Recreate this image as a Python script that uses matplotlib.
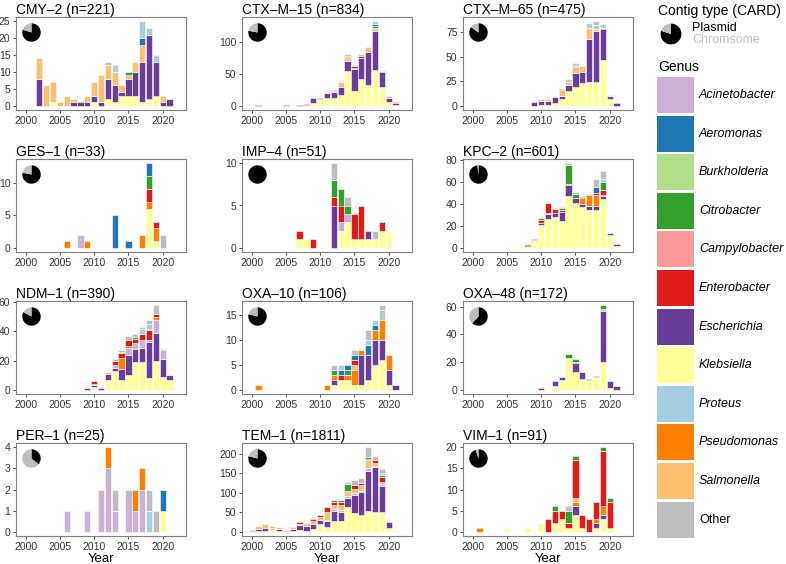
import matplotlib
matplotlib.use('Agg')
import matplotlib.pyplot as plt
from matplotlib.patches import Rectangle

plt.rcParams['font.family'] = ['Liberation Sans', 'DejaVu Sans']

years = list(range(2000, 2022))

# legend order and colours
genus_legend = ['Acinetobacter', 'Aeromonas', 'Burkholderia', 'Citrobacter', 'Campylobacter',
                'Enterobacter', 'Escherichia', 'Klebsiella', 'Proteus', 'Pseudomonas',
                'Salmonella', 'Other']
genus_colors = ['#cab2d6', '#1f78b4', '#b2df8a', '#33a02c', '#fb9a99',
                '#e31a1c', '#6a3d9a', '#ffff99', '#a6cee3', '#ff7f00',
                '#fdbf6f', '#bebebe']
# bottom -> top order of the stacks
stack_order = ['Klebsiella', 'Escherichia', 'Acinetobacter', 'Pseudomonas', 'Salmonella',
               'Campylobacter', 'Enterobacter', 'Citrobacter', 'Burkholderia', 'Aeromonas',
               'Proteus', 'Other']

#%% counts per genus per year
cmy2 = {
    'Klebsiella': {2004: 1, 2010: 1, 2012: 2, 2013: 1, 2014: 3, 2015: 3, 2016: 3, 2017: 1, 2018: 2, 2019: 3},
    'Escherichia': {2002: 8, 2007: 1, 2008: 1, 2009: 1, 2010: 2, 2011: 1, 2012: 6, 2013: 5, 2014: 1, 2015: 5,
                    2016: 7, 2017: 12, 2018: 19, 2019: 10, 2020: 1, 2021: 2},
    'Salmonella': {2002: 6, 2003: 6, 2004: 6, 2005: 1, 2006: 3, 2007: 1, 2009: 2, 2010: 4, 2011: 8, 2012: 4,
                   2013: 4, 2014: 2, 2015: 1, 2016: 3, 2017: 5, 2020: 2},
    'Citrobacter': {2015: 1},
    'Aeromonas': {2017: 2},
    'Proteus': {2013: 2, 2017: 5, 2018: 2, 2019: 2},
    'Other': {2012: 1},
}
ctxm15 = {
    'Klebsiella': {2003: 1, 2008: 1, 2009: 5, 2010: 10, 2011: 12, 2012: 12, 2013: 17, 2014: 55, 2015: 24,
                   2016: 42, 2017: 33, 2018: 57, 2019: 30, 2020: 6, 2021: 1},
    'Escherichia': {2001: 1, 2005: 1, 2007: 1, 2008: 2, 2009: 7, 2010: 2, 2011: 8, 2012: 9, 2013: 12, 2014: 15,
                    2015: 34, 2016: 33, 2017: 51, 2018: 60, 2019: 23, 2020: 7, 2021: 3},
    'Salmonella': {2011: 1, 2012: 2, 2013: 9, 2014: 5, 2015: 2, 2017: 9, 2018: 3, 2020: 2, 2021: 1},
    'Pseudomonas': {2014: 1},
    'Enterobacter': {2014: 3, 2015: 2, 2016: 4, 2018: 3, 2019: 1, 2021: 1},
    'Citrobacter': {2012: 2, 2018: 3},
    'Aeromonas': {2018: 3, 2019: 1},
    'Proteus': {2018: 4, 2019: 2},
    'Other': {2013: 1, 2014: 2, 2015: 2, 2016: 2, 2020: 1},
}
ctxm65 = {
    'Klebsiella': {2002: 1, 2008: 1, 2010: 1, 2011: 1, 2012: 3, 2013: 7, 2014: 15, 2015: 19, 2016: 23,
                   2017: 24, 2018: 24, 2019: 47, 2020: 7},
    'Escherichia': {2009: 4, 2010: 4, 2011: 4, 2012: 6, 2013: 3, 2014: 6, 2015: 14, 2016: 11, 2017: 44,
                    2018: 52, 2019: 31, 2020: 3, 2021: 3},
    'Salmonella': {2010: 2, 2011: 2, 2013: 6, 2014: 3, 2015: 6, 2016: 6, 2017: 11, 2018: 2, 2020: 1},
    'Enterobacter': {2015: 1, 2019: 1},
    'Citrobacter': {2013: 1},
    'Proteus': {2014: 3, 2015: 4, 2017: 5, 2018: 4, 2019: 4},
    'Other': {2018: 4},
}
ges1 = {
    'Acinetobacter': {2008: 2},
    'Pseudomonas': {2006: 1, 2009: 1, 2017: 2, 2018: 1, 2019: 2},
    'Aeromonas': {2013: 5, 2015: 1, 2018: 2},
    'Klebsiella': {2018: 6, 2019: 1},
    'Enterobacter': {2018: 2, 2019: 1},
    'Citrobacter': {2018: 2},
    'Other': {2020: 2},
}
imp4 = {
    'Klebsiella': {2007: 1, 2008: 1, 2013: 2, 2014: 3, 2015: 1, 2016: 1, 2017: 1, 2018: 1, 2019: 2, 2020: 2},
    'Escherichia': {2012: 5, 2017: 1},
    'Acinetobacter': {2013: 1, 2014: 1},
    'Enterobacter': {2007: 1, 2009: 1, 2012: 1, 2013: 2, 2015: 3, 2016: 4, 2019: 1},
    'Citrobacter': {2012: 2, 2013: 2, 2014: 1},
    'Other': {2012: 2, 2014: 1, 2018: 1},
}
kpc2 = {
    'Klebsiella': {2007: 1, 2008: 1, 2009: 7, 2010: 21, 2011: 26, 2012: 28, 2013: 24, 2014: 47, 2015: 41,
                   2016: 37, 2017: 34, 2018: 34, 2019: 44, 2020: 12, 2021: 2},
    'Escherichia': {2010: 2, 2011: 5, 2012: 4, 2013: 9, 2014: 10, 2015: 4, 2016: 3, 2017: 4, 2018: 4,
                    2019: 3, 2020: 1, 2021: 1},
    'Pseudomonas': {2011: 1, 2016: 5, 2017: 10, 2018: 10, 2019: 1},
    'Campylobacter': {2008: 2},
    'Enterobacter': {2009: 1, 2010: 2, 2011: 9, 2012: 3, 2013: 1, 2014: 1, 2016: 1, 2018: 2, 2019: 5},
    'Citrobacter': {2010: 2, 2013: 2, 2014: 17, 2015: 4, 2016: 1, 2017: 1, 2019: 7},
    'Aeromonas': {2013: 1, 2018: 5},
    'Proteus': {2013: 1, 2014: 2, 2015: 2, 2019: 3},
    'Other': {2011: 1, 2018: 8, 2019: 7},
}
ndm1 = {
    'Klebsiella': {2010: 2, 2012: 7, 2013: 13, 2014: 7, 2015: 10, 2016: 19, 2017: 19, 2018: 8, 2019: 20,
                   2020: 9, 2021: 7},
    'Escherichia': {2009: 1, 2010: 1, 2011: 1, 2012: 4, 2013: 2, 2014: 7, 2015: 14, 2016: 9, 2017: 10,
                    2018: 25, 2019: 19, 2020: 12, 2021: 3},
    'Acinetobacter': {2010: 1, 2013: 2, 2015: 5, 2016: 4, 2017: 5, 2018: 1, 2019: 9, 2020: 6},
    'Pseudomonas': {2014: 8, 2015: 1, 2019: 2},
    'Salmonella': {2012: 1, 2021: 1},
    'Enterobacter': {2010: 2, 2013: 3, 2014: 3, 2015: 4, 2016: 3, 2017: 4, 2018: 7, 2019: 2},
    'Citrobacter': {2014: 1, 2016: 1, 2018: 1, 2020: 1},
    'Proteus': {2017: 4, 2018: 3, 2020: 1},
    'Other': {2013: 1, 2014: 1, 2015: 3, 2016: 2, 2017: 1, 2018: 3, 2019: 6},
}
oxa10 = {
    'Klebsiella': {2012: 1, 2013: 2, 2014: 2, 2015: 1, 2016: 1, 2017: 2, 2018: 5, 2019: 6, 2020: 1},
    'Escherichia': {2012: 1, 2016: 6, 2017: 5, 2018: 5, 2019: 4, 2020: 3, 2021: 1},
    'Pseudomonas': {2001: 1, 2011: 1, 2012: 1, 2014: 1, 2015: 3, 2016: 1, 2018: 2, 2019: 4, 2020: 3},
    'Salmonella': {2015: 1},
    'Enterobacter': {2013: 1, 2015: 1},
    'Citrobacter': {2012: 1, 2014: 1},
    'Aeromonas': {2013: 1, 2014: 1, 2015: 1, 2017: 2, 2018: 1},
    'Proteus': {2013: 1, 2017: 1, 2018: 1, 2019: 2},
    'Other': {2012: 1, 2015: 1, 2017: 2, 2019: 1},
}
oxa48 = {
    'Klebsiella': {2012: 3, 2013: 7, 2014: 23, 2015: 13, 2016: 8, 2017: 7, 2018: 9, 2019: 20, 2020: 1},
    'Escherichia': {2012: 3, 2013: 2, 2015: 6, 2016: 5, 2017: 1, 2018: 1, 2019: 37, 2020: 5, 2021: 3},
    'Salmonella': {2019: 1},
    'Enterobacter': {2010: 1, 2015: 1},
    'Citrobacter': {2014: 3, 2015: 2, 2019: 3},
}
per1 = {
    'Acinetobacter': {2006: 1, 2009: 1, 2011: 2, 2012: 3, 2013: 1, 2015: 2, 2016: 1, 2017: 2},
    'Pseudomonas': {2012: 1, 2016: 1, 2017: 1},
    'Proteus': {2018: 1},
    'Other': {2013: 1, 2018: 1, 2019: 1},
    'Klebsiella': {2020: 1},
    'Aeromonas': {2020: 1},
}
tem1 = {
    'Klebsiella': {2000: 2, 2001: 2, 2002: 3, 2003: 7, 2004: 2, 2005: 2, 2006: 3, 2007: 4, 2008: 3, 2009: 7,
                   2010: 20, 2011: 11, 2012: 27, 2013: 27, 2014: 63, 2015: 47, 2016: 43, 2017: 54,
                   2018: 50, 2019: 50, 2020: 9, 2021: 1},
    'Escherichia': {2000: 3, 2001: 5, 2002: 6, 2003: 2, 2004: 5, 2005: 3, 2006: 5, 2007: 13, 2008: 12,
                    2009: 13, 2010: 11, 2011: 17, 2012: 27, 2013: 24, 2014: 24, 2015: 47, 2016: 58,
                    2017: 103, 2018: 116, 2019: 68, 2020: 15},
    'Acinetobacter': {2011: 3, 2012: 4, 2013: 4, 2014: 6, 2015: 5, 2016: 4, 2017: 6, 2018: 4, 2019: 4},
    'Salmonella': {2000: 3, 2001: 8, 2002: 12, 2003: 6, 2004: 4, 2005: 3, 2006: 5, 2007: 4, 2008: 7,
                   2009: 8, 2010: 6, 2011: 20, 2012: 11, 2013: 13, 2014: 8, 2015: 10, 2016: 15,
                   2017: 20, 2018: 6, 2019: 5},
    'Enterobacter': {2007: 5, 2009: 4, 2010: 6, 2011: 12, 2012: 8, 2013: 9, 2014: 3, 2015: 12, 2016: 5,
                     2017: 3, 2018: 9, 2019: 13},
    'Citrobacter': {2012: 4, 2013: 5, 2014: 19, 2017: 6, 2019: 7},
    'Proteus': {2019: 3},
    'Other': {2013: 2, 2014: 4, 2015: 12, 2016: 12, 2017: 25, 2018: 10, 2019: 10},
}
vim1 = {
    'Klebsiella': {2005: 1, 2008: 1, 2010: 2, 2012: 2, 2013: 3, 2014: 1, 2015: 4, 2016: 1, 2018: 1,
                   2019: 3, 2020: 1},
    'Escherichia': {2015: 2, 2018: 1, 2019: 1},
    'Pseudomonas': {2001: 1, 2015: 1, 2018: 1, 2019: 2},
    'Salmonella': {2015: 1},
    'Enterobacter': {2011: 3, 2012: 3, 2013: 2, 2014: 1, 2015: 9, 2016: 3, 2017: 3, 2018: 4, 2019: 13,
                     2020: 6},
    'Citrobacter': {2012: 1, 2014: 3, 2015: 1, 2019: 1, 2020: 1},
    'Other': {2014: 1},
}

panel_titles = ['CMY–2 (n=221)', 'CTX–M–15 (n=834)', 'CTX–M–65 (n=475)',
                'GES–1 (n=33)', 'IMP–4 (n=51)', 'KPC–2 (n=601)',
                'NDM–1 (n=390)', 'OXA–10 (n=106)', 'OXA–48 (n=172)',
                'PER–1 (n=25)', 'TEM–1 (n=1811)', 'VIM–1 (n=91)']
panel_counts = [cmy2, ctxm15, ctxm65, ges1, imp4, kpc2, ndm1, oxa10, oxa48, per1, tem1, vim1]
plasmid_frac = [0.80, 0.78, 0.85, 0.78, 1.0, 0.98, 0.83, 0.79, 0.62, 0.36, 0.79, 0.95]
panel_yticks = [[0, 5, 10, 15, 20, 25], [0, 50, 100], [0, 25, 50, 75],
                [0, 5, 10], [0, 5, 10], [0, 20, 40, 60, 80],
                [0, 20, 40, 60], [0, 5, 10, 15], [0, 20, 40, 60],
                [0, 1, 2, 3, 4], [0, 50, 100, 150, 200], [0, 5, 10, 15, 20]]

#%% figure
W, H = 786, 564
fig = plt.figure(figsize=(W / 100, H / 100), dpi=100)
col = dict(zip(genus_legend, genus_colors))


def px_axes(left, top, width, height):
    return fig.add_axes([left / W, 1 - (top + height) / H, width / W, height / H])


lax = px_axes(0, 0, W, H)
lax.set_xlim(0, W)
lax.set_ylim(H, 0)
lax.axis('off')

col_left = [16, 242, 463]
row_top = [17, 159, 301, 443]
aw, ah = 170, 93

for k in range(12):
    r, c = divmod(k, 3)
    ax = px_axes(col_left[c], row_top[r], aw, ah)
    counts = panel_counts[k]
    bottom = [0] * len(years)
    for g in stack_order:
        if g not in counts:
            continue
        vals = [counts[g].get(y, 0) for y in years]
        xs = [y for y, v in zip(years, vals) if v > 0]
        hs = [v for v in vals if v > 0]
        bs = [b for b, v in zip(bottom, vals) if v > 0]
        ax.bar(xs, hs, bottom=bs, width=0.9, color=col[g], edgecolor='white', linewidth=0.4)
        bottom = [b + v for b, v in zip(bottom, vals)]
    top = max(bottom)
    ax.set_ylim(-0.05 * top, 1.05 * top)
    ax.set_xlim(1998.6, 2023.4)
    ax.set_xticks([2000, 2005, 2010, 2015, 2020])
    ax.set_yticks(panel_yticks[k])
    ax.tick_params(labelsize=7.5, labelcolor='#333333', color='#333333', length=2.5, width=0.6, pad=1.5)
    for s in ax.spines.values():
        s.set_color('#7f7f7f')
        s.set_linewidth(0.8)
    ax.set_title(panel_titles[k], loc='left', fontsize=10, pad=2.5)
    if r == 3:
        ax.set_xlabel('Year', fontsize=9.5, labelpad=1)
    # contig type pie
    pax = px_axes(col_left[c] + 4, row_top[r] + 4, 23, 23)
    pax.pie([plasmid_frac[k], 1 - plasmid_frac[k]], colors=['black', '#bebebe'],
            startangle=90, counterclock=False, wedgeprops=dict(linewidth=0))
    pax.set_aspect('equal')

#%% legend
lax.text(658, 11, 'Contig type (CARD)', fontsize=10, va='center', ha='left')
lpie = px_axes(658, 21, 26, 26)
lpie.pie([0.8, 0.2], colors=['black', '#bebebe'], startangle=90, counterclock=False,
         wedgeprops=dict(linewidth=0))
lax.text(692, 28, 'Plasmid', fontsize=9, va='center', ha='left')
lax.text(692, 40, 'Chromsome', fontsize=9, va='center', ha='left', color='#c0c0c0')
lax.text(658, 67, 'Genus', fontsize=10, va='center', ha='left')
for i, g in enumerate(genus_legend):
    y0 = 77 + 38.6 * i
    lax.add_patch(Rectangle((657, y0), 37, 36, facecolor=genus_colors[i], edgecolor='none'))
    lax.text(699, y0 + 18, g, fontsize=9, va='center', ha='left',
             style='normal' if g == 'Other' else 'italic')

fig.savefig('out.png', dpi=100)
